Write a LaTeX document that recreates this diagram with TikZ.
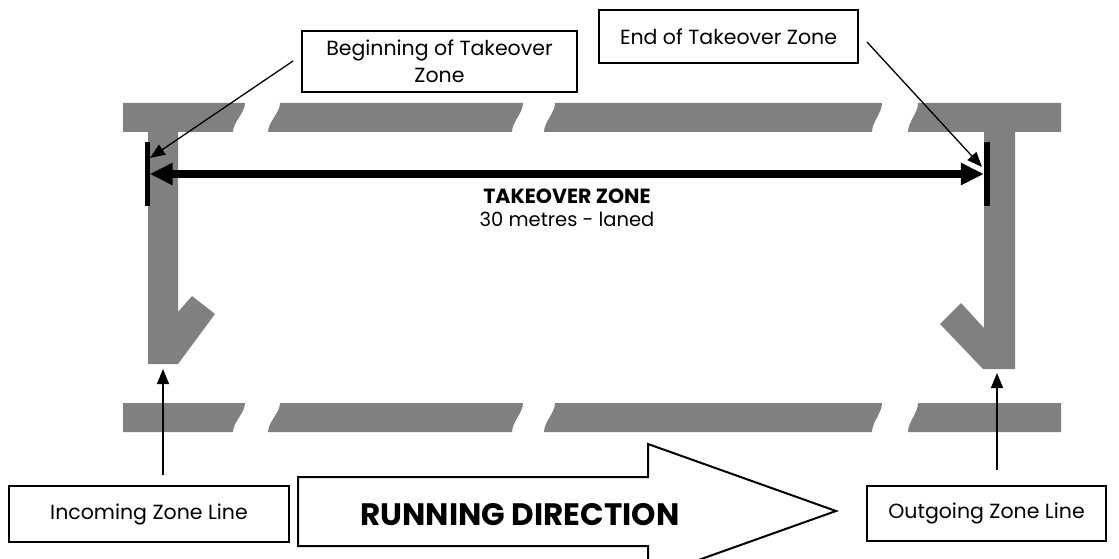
\documentclass[tikz,border=0pt]{standalone}
\usepackage{fontspec}
\setmainfont{Poppins}
\usetikzlibrary{arrows.meta}

\tikzset{
  label box/.style={draw, line width=1.5pt, fill=white, align=center, inner sep=0pt,
    font=\fontsize{20.5}{27}\selectfont},
  leader/.style={line width=1.3pt, -{Triangle[length=15pt,width=12pt]}},
  track/.style={fill=gray},
  zone bar/.style={fill=black, inner sep=0pt, minimum height=64pt}
}

\begin{document}
\begin{tikzpicture}[x=1pt,y=-1pt]
\clip (0,0) rectangle (1119,559);
% lane lines, top and bottom
\foreach \y in {103,403}
  \foreach \lt/\lb/\rt/\rb in {123/123/245/233,280/268/523/512,555/544/882/872,918/908/1061/1061}
    \fill[track] (\lt,\y) -- (\rt,\y) .. controls (\rt,\y+10) and (\rb,\y+19) .. (\rb,\y+29)
      -- (\lb,\y+29) .. controls (\lb,\y+19) and (\lt,\y+10) .. (\lt,\y) -- cycle;
% zone lines
\fill[track] (148,120) -- (178,120) -- (178,312) -- (192,296) -- (215,314) -- (178,364) -- (148,364) -- cycle;
\fill[track] (984,120) -- (1015,120) -- (1015,369) -- (983,369) -- (940,324) -- (961,303) -- (984,328) -- cycle;

\node[zone bar, minimum width=5pt] (inbar) at (147,174) {};
\node[zone bar, minimum width=6pt] (outbar) at (987,174) {};
\draw[line width=8pt, {Triangle[length=23pt,width=21pt]}-{Triangle[length=23pt,width=21pt]}] (inbar.east) -- (outbar.west);
\node[font=\fontsize{19.5}{23}\selectfont, align=center] (zonetext) at (567,208)
  {\fontsize{20.5}{23}\selectfont\textbf{TAKEOVER ZONE}\\30 metres - laned};

\node[label box, minimum width=275pt, minimum height=61pt] (begbox) at (439.5,61.5) {Beginning of Takeover\\Zone};
\node[label box, minimum width=259pt, minimum height=53pt] (endbox) at (728.5,36.5) {End of Takeover Zone};
\coordinate (begfoot) at (293,61);
\coordinate (begtip) at (150,158);
\coordinate (endfoot) at (867,42);
\coordinate (endtip) at (982,167);
\draw[leader] (begfoot) -- (begtip);
\draw[leader] (endfoot) -- (endtip);

\node[label box, minimum width=280pt, minimum height=56pt] (inbox) at (149,514) {Incoming Zone Line};
\node[label box, minimum width=239pt, minimum height=55pt] (outbox) at (986.5,513.5) {Outgoing Zone Line};
\coordinate (infoot) at (163,475);
\coordinate (intip) at (163,369);
\coordinate (outfoot) at (997,470);
\coordinate (outtip) at (997,373);
\draw[leader] (infoot) -- (intip);
\draw[leader] (outfoot) -- (outtip);

% running direction
\draw[line width=2pt, fill=white] (298,477) -- (648,477) -- (648,444) -- (836,511) -- (648,578) -- (648,546) -- (298,546) -- cycle;
\node[font=\fontsize{31}{36}\selectfont\bfseries] (runtext) at (520,515) {RUNNING DIRECTION};
\end{tikzpicture}
\end{document}
